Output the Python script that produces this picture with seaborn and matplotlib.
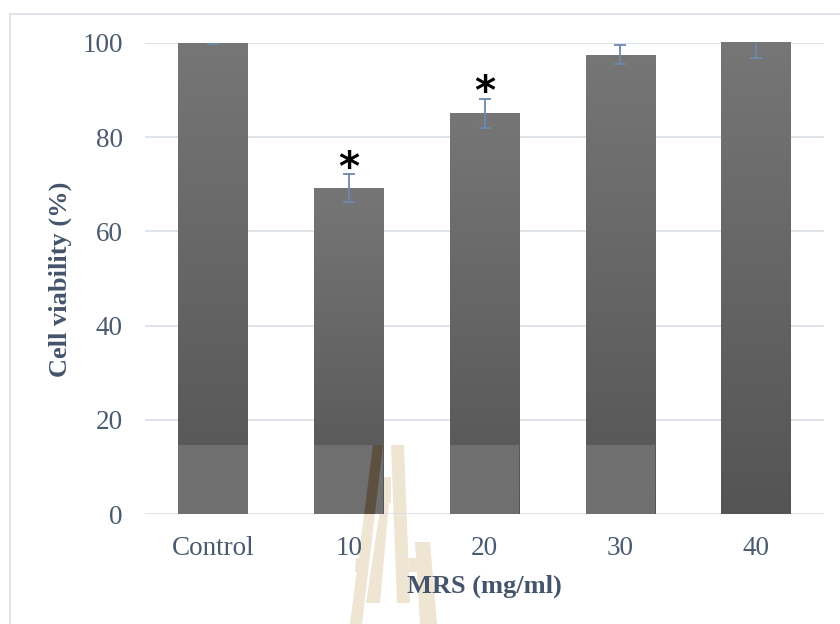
import numpy as np
import pandas as pd
import matplotlib
matplotlib.use("Agg")
import matplotlib.pyplot as plt
import seaborn as sns
from matplotlib.patches import Polygon
from matplotlib.lines import Line2D
from matplotlib.colors import LinearSegmentedColormap

# ---- data ----
categories = ["Control", "10", "20", "30", "40"]
viability = [100.0, 69.2, 85.1, 97.5, 100.3]
errors = [0.3, 2.9, 3.1, 2.0, 3.4]
band = [14.6, 14.6, 14.6, 14.6, 0.0]
significant = [False, True, True, False, False]
yticks = [0, 20, 40, 60, 80, 100]

sns.set_theme(style="white")
plt.rcParams['font.family'] = ['Liberation Serif', 'DejaVu Serif']

W, H = 840, 624
fig = plt.figure(figsize=(W / 100, H / 100), dpi=100)
fig.patch.set_facecolor("white")


def fx(x):
    return x / W


def fy(y):
    return 1 - y / H


ax = fig.add_axes([fx(145), fy(514), (824 - 145) / W, (514 - 43) / H])
ax.patch.set_alpha(0)

df = pd.DataFrame({"MRS": categories, "viability": viability, "band": band})

sns.barplot(data=df, x="MRS", y="viability", color="#666666", width=0.51,
            saturation=1, errorbar=None, ax=ax, zorder=2, linewidth=0,
            edgecolor="none")
bars = list(ax.patches)

cmap = LinearSegmentedColormap.from_list("g", ["#545454", "#767676"])
grad = np.linspace(0, 1, 256).reshape(-1, 1)
for p in bars:
    x0, w, h = p.get_x(), p.get_width(), p.get_height()
    im = ax.imshow(grad, cmap=cmap, extent=[x0, x0 + w, 0, h], origin="lower",
                   aspect="auto", zorder=2.1, vmin=0, vmax=1)
    im.set_clip_path(p)
    p.set_facecolor("none")
    p.set_edgecolor("none")

sns.barplot(data=df, x="MRS", y="band", color="#6F6F6F", width=0.51,
            saturation=1, errorbar=None, ax=ax, zorder=2.5, linewidth=0,
            edgecolor="none")
band_bars = list(ax.patches)[len(bars):]

ax.errorbar(range(len(categories)), viability, yerr=errors, fmt="none",
            ecolor="#6B88AC", elinewidth=1.3, capsize=4.5, capthick=1.3, zorder=4)

for i, (v, e, s) in enumerate(zip(viability, errors, significant)):
    if s:
        ax.text(i, v + e + 1.2, "*", ha="center", va="center", fontsize=29,
                fontweight="bold", color="black", zorder=5, family="DejaVu Sans")

ax.set_xlim(-0.5, len(categories) - 0.5)
ax.set_ylim(0, 100)
ax.set_yticks(yticks)
ax.yaxis.grid(True, color="#D9DEE6", lw=1.2)
ax.set_axisbelow(True)
for s in ax.spines.values():
    s.set_visible(False)
ax.tick_params(axis="y", length=0, labelsize=19.5, labelcolor="#4A5A70", pad=16)
ax.tick_params(axis="x", length=0, labelsize=19.5, labelcolor="#4A5A70", pad=16)
ax.set_xlabel("")
ax.set_ylabel("")

fig.text(fx(60), fy(279), "Cell viability (%)", rotation=90, ha="center", va="center",
         fontsize=19, fontweight="bold", color="#44546A")
fig.text(fx(484), fy(586), "MRS (mg/ml)", ha="center", va="center",
         fontsize=19, fontweight="bold", color="#44546A")

# outer frame
fig.add_artist(Line2D([fx(10), fx(10)], [0, fy(14)], color="#D9DFE7", lw=1.2,
                      transform=fig.transFigure))
fig.add_artist(Line2D([fx(10), 1], [fy(14), fy(14)], color="#D9DFE7", lw=1.2,
                      transform=fig.transFigure))

# watermark (pixel coordinates)
wm_shapes = [
    [(373, 445), (383, 445), (362, 624), (350, 624)],
    [(391, 445), (404, 445), (410, 603), (397, 603)],
    [(383, 477), (391, 477), (391, 503), (383, 503)],
    [(381, 503), (389, 503), (380, 603), (366, 603)],
    [(356, 558), (369, 558), (368, 572), (355, 572)],
    [(408, 558), (418, 558), (418, 572), (409, 572)],
    [(415, 542), (430, 542), (437, 624), (420, 624)],
]
for pts in wm_shapes:
    poly = Polygon([(fx(x), fy(y)) for x, y in pts], closed=True,
                   transform=fig.transFigure, facecolor="#EEE5D3", edgecolor="none",
                   zorder=-1)
    fig.add_artist(poly)

over = Polygon([(fx(x), fy(y)) for x, y in wm_shapes[0]], closed=True,
               transform=fig.transFigure, facecolor="#5C5141", edgecolor="none",
               zorder=2.6)
ax.add_artist(over)
over.set_clip_path(band_bars[1])

fig.savefig("out.png", dpi=100)
